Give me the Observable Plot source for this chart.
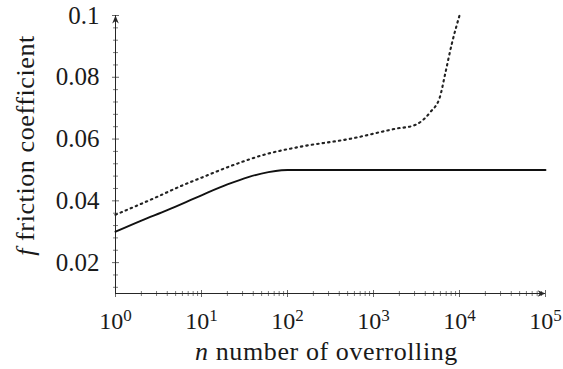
<!DOCTYPE html>
<html><head><meta charset="utf-8">
<script src="https://cdn.jsdelivr.net/npm/d3@7"></script>
<script src="https://cdn.jsdelivr.net/npm/@observablehq/plot@0.6"></script>
<style>body{margin:0;background:#fff}</style>
</head><body><div id="chart"></div>
<script>
// ---- data ----
const solidN = [1, 2, 4, 10, 20, 35, 60, 85, 100, 100000];
const solidF = [0.030, 0.0336, 0.0370, 0.0418, 0.0453, 0.0477, 0.0493, 0.0499, 0.0500, 0.0500];
const dottedN = [1, 3, 6, 10, 23, 58, 140, 540, 1860, 2950, 4570, 5900, 6800, 8130, 10000];
const dottedF = [0.0355, 0.0412, 0.0450, 0.0475, 0.0515, 0.0552, 0.0575, 0.0601, 0.0634, 0.0644, 0.0687, 0.0735, 0.081, 0.0908, 0.1];
const xDomain = [1, 100000];
const yDomain = [0.01, 0.1];
const xTicks = [1, 10, 100, 1000, 10000, 100000];
const xTickBase = "10";
const xTickExp = ["0", "1", "2", "3", "4", "5"];
const yTicks = [0.02, 0.04, 0.06, 0.08, 0.1];
const yTickLabels = ["0.02", "0.04", "0.06", "0.08", "0.1"];
const yMinorTicks = [0.012, 0.016, 0.024, 0.028, 0.032, 0.036, 0.044, 0.048, 0.052, 0.056, 0.064, 0.068, 0.072, 0.076, 0.084, 0.088, 0.092, 0.096];
const xMinorMultipliers = [2, 3, 4, 5, 6, 7, 8, 9];
const xMinorTicks = xTicks.slice(0, -1).flatMap(p => xMinorMultipliers.map(m => m * p));
const xLabel = ["n", " number of overrolling"];
const yLabel = ["f", " friction coefficient"];

const solid = solidN.map((n, i) => ({n, f: solidF[i]}));
const dotted = dottedN.map((n, i) => ({n, f: dottedF[i]}));

const FONT = "Liberation Serif";

// symbols
const vTick = h => ({draw(ctx) { ctx.moveTo(0, -h); ctx.lineTo(0, h); }});
const hTick = h => ({draw(ctx) { ctx.moveTo(-h, 0); ctx.lineTo(h, 0); }});
const stealth = {draw(ctx) { ctx.moveTo(0, 0); ctx.lineTo(-8, -3.3); ctx.lineTo(-5.5, 0); ctx.lineTo(-8, 3.3); ctx.closePath(); }};
const axisColor = "#262626";

const plot = Plot.plot({
  width: 563,
  height: 369,
  marginLeft: 115,
  marginRight: 18,
  marginTop: 15,
  marginBottom: 76,
  style: {fontFamily: FONT, fontSize: "24px", background: "white"},
  x: {type: "log", domain: xDomain},
  y: {domain: yDomain},
  marks: [
    Plot.ruleY([yDomain[0]], {stroke: axisColor, strokeWidth: 1}),
    Plot.ruleX([xDomain[0]], {stroke: axisColor, strokeWidth: 1}),
    Plot.dot(xMinorTicks, {x: d => d, frameAnchor: "bottom", symbol: vTick(2.5), stroke: axisColor, fill: "none", strokeWidth: 0.6}),
    Plot.dot(xTicks, {x: d => d, frameAnchor: "bottom", symbol: vTick(3.5), stroke: axisColor, fill: "none", strokeWidth: 0.7}),
    Plot.dot(yMinorTicks, {y: d => d, frameAnchor: "left", symbol: hTick(2.5), stroke: axisColor, fill: "none", strokeWidth: 0.6}),
    Plot.dot(yTicks, {y: d => d, frameAnchor: "left", symbol: hTick(3.5), stroke: axisColor, fill: "none", strokeWidth: 0.7}),
    Plot.dot([0], {x: () => xDomain[1], y: () => yDomain[0], symbol: stealth, fill: axisColor, stroke: "none"}),
    Plot.dot([0], {x: () => xDomain[0], y: () => yDomain[1], symbol: stealth, rotate: -90, fill: axisColor, stroke: "none"}),
    Plot.axisX({ticks: xTicks, tickSize: 0, tickPadding: 18, label: null,
      tickFormat: d => xTickBase + "|" + xTickExp[xTicks.indexOf(d)], fill: "#1a1a1a"}),
    Plot.axisY({ticks: yTicks, tickSize: 0, tickPadding: 16, label: null, fontSize: 25,
      tickFormat: d => yTickLabels[yTicks.indexOf(d)], fill: "#1a1a1a"}),
    Plot.line(dotted, {x: "n", y: "f", curve: "monotone-x", stroke: "#222", strokeWidth: 2.1, strokeDasharray: "1.5,4"}),
    Plot.line(solid, {x: "n", y: "f", curve: "monotone-x", stroke: "#111", strokeWidth: 1.9}),
    Plot.text([{id: "x-label", t: xLabel.join("")}], {text: "t", ariaLabel: "id", frameAnchor: "bottom", textAnchor: "middle", dy: 66, dx: -4, lineAnchor: "bottom", fontSize: 26, fill: "#1a1a1a"}),
    Plot.text([{id: "y-label", t: yLabel.join("")}], {text: "t", ariaLabel: "id", frameAnchor: "left", textAnchor: "middle", dx: -82, dy: -9, rotate: -90, lineAnchor: "bottom", fontSize: 26, fill: "#1a1a1a"})
  ]
});
document.getElementById("chart").appendChild(plot);

const svg = d3.select(plot);
// superscripts on x tick labels
svg.selectAll('g[aria-label="x-axis tick label"] text').each(function() {
  const t = d3.select(this);
  const [b, e] = t.text().split("|");
  t.text(b);
  t.append("tspan").attr("dy", "-0.42em").attr("font-size", "17px").text(e);
});
// italic symbol in axis labels
function styleLabel(sel, parts) {
  svg.selectAll(sel).each(function() {
    const t = d3.select(this);
    t.text(null).style("letter-spacing", "0.6px");
    t.append("tspan").attr("font-style", "italic").text(parts[0]);
    t.append("tspan").text(parts[1]);
  });
}
styleLabel('text[aria-label="x-label"]', xLabel);
styleLabel('text[aria-label="y-label"]', yLabel);
svg.selectAll("text, tspan").attr("font-family", FONT);
</script>
</body></html>
